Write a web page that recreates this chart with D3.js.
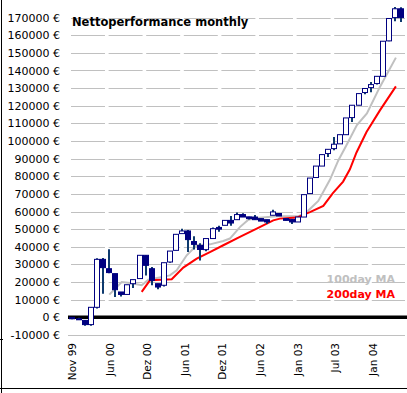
<!DOCTYPE html>
<html>
<head>
<meta charset="utf-8">
<script src="https://cdn.jsdelivr.net/npm/d3@7"></script>
<style>
body { margin: 0; background: #fff; }
svg { display: block; font-family: "DejaVu Sans", Verdana, sans-serif; }
</style>
</head>
<body>
<svg id="chart" width="407" height="393"></svg>
<script>
// monthly candles, Nov 99 .. May 04
var openVals = [0, -800, -1700, -4100, 5700, 32900, 27600, 24800, 14400, 13000,
    19100, 22000, 35200, 27600, 19100, 18200, 31400, 38000, 47500, 49000,
    43000, 40800, 38400, 44700, 51000, 52200, 55000, 55400, 58300, 57000,
    56900, 56000, 55400, 57900, 58900, 56000, 55600, 54100, 56900, 70200,
    79300, 85800, 92900, 95700, 98400, 103600, 113300, 120300, 127500, 130300,
    132600, 136700, 156800, 170000, 175000];
var closeVals = [-800, -1300, -4100, 5700, 32900, 28200, 25400, 15700, 13000, 18500,
    21400, 35200, 29500, 21000, 17200, 31000, 37600, 47100, 49000, 44100,
    41400, 38500, 44700, 50300, 50000, 55000, 53500, 58300, 56900, 56000,
    55400, 54600, 54100, 59800, 57500, 55000, 54100, 56900, 69600, 79000,
    85800, 92300, 95300, 98200, 103600, 113100, 120300, 126900, 129800, 132000,
    136700, 156600, 169500, 175000, 170000];
var highVals = [0, -200, -1500, 5700, 33500, 33700, 38600, 24800, 14400, 18500,
    21400, 35200, 35200, 28500, 19100, 31000, 37600, 47100, 50300, 49500,
    46000, 42000, 44700, 51000, 52000, 55000, 57500, 59500, 59000, 57000,
    58000, 56000, 55400, 61100, 58900, 56000, 55600, 56900, 69600, 79000,
    85800, 92300, 95300, 102300, 103600, 113100, 120300, 126900, 129800, 133500,
    136700, 156600, 169500, 176000, 175800];
var lowVals = [-1000, -1500, -4700, -4700, 5000, 13400, 25000, 11500, 11800, 13000,
    16600, 22000, 23800, 18200, 15900, 17500, 31000, 38000, 47500, 37000,
    38500, 32300, 37500, 44700, 48500, 52200, 52000, 55400, 56900, 55500,
    55400, 54600, 53000, 57900, 57500, 55000, 53000, 54100, 56900, 70200,
    79000, 85800, 91000, 94800, 98400, 103600, 110800, 120300, 126500, 127600,
    132000, 136700, 156600, 168000, 167500];

// moving averages
var ma100Dates = ["2000-06-02", "2000-08-03", "2000-09-13", "2000-11-11", "2000-12-14",
    "2001-04-01", "2001-05-05", "2001-06-24", "2001-08-13", "2001-10-18",
    "2001-12-24", "2002-01-26", "2002-03-17", "2002-04-28", "2002-06-09",
    "2002-09-17", "2003-01-03", "2003-02-14", "2003-04-13", "2003-06-10",
    "2003-07-22", "2003-08-29", "2003-10-23", "2003-12-12", "2004-02-15",
    "2004-05-05"];
var ma100Vals = [12900, 20000, 19500, 18200, 21400, 23800, 26700, 35200, 40900, 41400,
    43300, 44700, 51200, 55400, 56300, 57300, 57300, 59700, 66000, 78000,
    89000, 97000, 109000, 115600, 130700, 147300];
var ma200Dates = ["2000-11-11", "2000-12-22", "2001-04-10", "2001-06-07", "2001-08-13",
    "2001-10-18", "2001-12-24", "2002-03-17", "2002-06-09", "2002-08-31",
    "2002-10-03", "2002-12-26", "2003-03-02", "2003-05-08", "2003-06-25",
    "2003-08-15", "2003-09-18", "2003-10-21", "2003-12-10", "2004-02-15",
    "2004-05-05"];
var ma200Vals = [14500, 21000, 21600, 28200, 33300, 37000, 40900, 45600, 50300, 55000,
    56000, 56600, 59700, 63200, 70500, 77000, 84000, 93500, 105100, 117400,
    131000];

var xTickLabels = ["Nov 99", "Jun 00", "Dez 00", "Jun 01", "Dez 01", "Jun 02", "Jan 03", "Jul 03", "Jan 04"];
var yTickValues = d3.range(-10000, 170001, 10000);

var parseDate = d3.timeParse("%Y-%m-%d");
var startDate = parseDate("1999-11-30");
var endDate = parseDate("2004-05-31");
var tickStepDays = 188;

// each candle sits on the last day of its month
var candleDates = d3.timeMonth.range(new Date(1999, 10, 1), new Date(2004, 5, 1))
    .map(function(d) { return d3.timeDay.offset(d3.timeMonth.offset(d, 1), -1); });

var svg = d3.select("#chart");

var xScale = d3.scaleTime()
    .domain([startDate, endDate])
    .range([72.3, 401.1]);
var yScale = d3.scaleLinear()
    .domain([-10000, 170000])
    .range([335, 17.6]);

var plotLeft = 68, plotRight = 405;

// frame
svg.append("line")
    .attr("x1", 1.5).attr("x2", 1.5).attr("y1", 0).attr("y2", 393)
    .attr("stroke", "#000").attr("stroke-width", 1);
svg.append("line")
    .attr("x1", 0).attr("x2", 3).attr("y1", 339.5).attr("y2", 339.5)
    .attr("stroke", "#000").attr("stroke-width", 1);
svg.append("line")
    .attr("x1", 0).attr("x2", 407).attr("y1", 388.5).attr("y2", 388.5)
    .attr("stroke", "#000").attr("stroke-width", 1);

// grid
svg.append("g")
    .selectAll("line")
    .data(yTickValues.filter(function(v) { return v > 0; }))
    .join("line")
    .attr("x1", 71)
    .attr("x2", plotRight)
    .attr("y1", function(v) { return Math.round(yScale(v)) + 0.5; })
    .attr("y2", function(v) { return Math.round(yScale(v)) + 0.5; })
    .attr("stroke", "#c0c0c0")
    .attr("stroke-width", 1)
    .attr("stroke-dasharray", "34 3.6");
svg.append("line")
    .attr("x1", plotLeft).attr("x2", plotRight)
    .attr("y1", Math.round(yScale(-10000)) + 0.5)
    .attr("y2", Math.round(yScale(-10000)) + 0.5)
    .attr("stroke", "#c0c0c0").attr("stroke-width", 1);

// y axis labels
var yAxis = d3.axisLeft(yScale)
    .tickValues(yTickValues)
    .tickSize(0)
    .tickPadding(0)
    .tickFormat(function(v) { return v + " \u20ac"; });
svg.append("g")
    .attr("transform", "translate(60,0)")
    .call(yAxis)
    .call(function(g) { g.select(".domain").remove(); })
    .call(function(g) {
        g.selectAll("text")
            .attr("font-family", "DejaVu Sans, Verdana, sans-serif")
            .attr("font-size", 11)
            .attr("fill", "#000");
    });

// x axis labels
svg.append("g")
    .selectAll("text")
    .data(xTickLabels)
    .join("text")
    .attr("transform", function(d, i) {
        var x = xScale(d3.timeDay.offset(startDate, i * tickStepDays));
        return "translate(" + x + ",343) rotate(-90)";
    })
    .attr("text-anchor", "end")
    .attr("dy", "0.35em")
    .attr("font-size", 10.5)
    .attr("fill", "#000")
    .text(function(d) { return d; });

// moving averages
var line = d3.line()
    .x(function(d) { return xScale(d[0]); })
    .y(function(d) { return yScale(d[1]); });
svg.append("path")
    .datum(ma100Dates.map(function(d, i) { return [parseDate(d), ma100Vals[i]]; }))
    .attr("d", line)
    .attr("fill", "none")
    .attr("stroke", "#c0c0c0")
    .attr("stroke-width", 2);
svg.append("path")
    .datum(ma200Dates.map(function(d, i) { return [parseDate(d), ma200Vals[i]]; }))
    .attr("d", line)
    .attr("fill", "none")
    .attr("stroke", "#ff0000")
    .attr("stroke-width", 2);

// zero line
svg.append("line")
    .attr("x1", plotLeft).attr("x2", 407)
    .attr("y1", yScale(0)).attr("y2", yScale(0))
    .attr("stroke", "#000").attr("stroke-width", 3.5);

// candles
var candles = svg.append("g")
    .selectAll("g")
    .data(candleDates)
    .join("g");
candles.append("line")
    .attr("x1", function(d) { return Math.round(xScale(d)); })
    .attr("x2", function(d) { return Math.round(xScale(d)); })
    .attr("y1", function(d, i) { return yScale(highVals[i]); })
    .attr("y2", function(d, i) { return yScale(lowVals[i]); })
    .attr("stroke", "#0e3a6e")
    .attr("stroke-width", 2);
candles.append("rect")
    .attr("x", function(d) { return Math.round(xScale(d)) - 2.5; })
    .attr("width", 5)
    .attr("y", function(d, i) { return yScale(Math.max(openVals[i], closeVals[i])); })
    .attr("height", function(d, i) {
        return Math.max(1, Math.abs(yScale(openVals[i]) - yScale(closeVals[i])));
    })
    .attr("fill", function(d, i) { return closeVals[i] >= openVals[i] ? "#fff" : "#000080"; })
    .attr("stroke", "#000080")
    .attr("stroke-width", 1);

// title
svg.append("text")
    .attr("x", 72)
    .attr("y", 26)
    .attr("font-size", 11.5)
    .attr("font-weight", "bold")
    .attr("fill", "#000")
    .text("Nettoperformance monthly");

// legend
svg.append("text")
    .attr("x", 395).attr("y", 283)
    .attr("text-anchor", "end")
    .attr("font-size", 11).attr("font-weight", "bold")
    .attr("fill", "#c0c0c0")
    .text("100day MA");
svg.append("text")
    .attr("x", 395).attr("y", 298)
    .attr("text-anchor", "end")
    .attr("font-size", 11).attr("font-weight", "bold")
    .attr("fill", "#ff0000")
    .text("200day MA");
</script>
</body>
</html>
